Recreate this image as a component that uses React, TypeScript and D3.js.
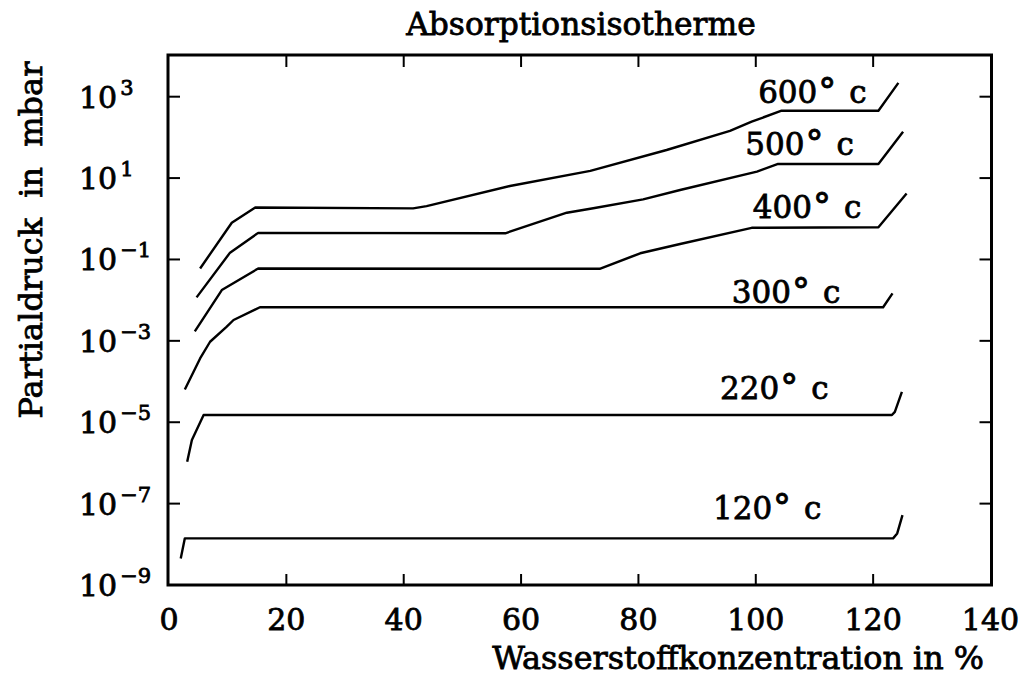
import React from "react";
import * as d3 from "d3";

// Absorption isotherms: hydrogen partial pressure (mbar, log scale) vs. hydrogen concentration (%)
const WIDTH = 1027;
const HEIGHT = 677;

const xTickValues = [0, 20, 40, 60, 80, 100, 120, 140];
const yTickExponents = [3, 1, -1, -3, -5, -7, -9];

const temperatures = ["600", "500", "400", "300", "220", "120"];

// [concentration %, partial pressure mbar]
const iso600: [number, number][] = [
  [5.3, 0.06], [10.7, 0.8], [14.7, 1.9], [41.6, 1.8], [43.9, 2.05], [58.1, 6.4],
  [71.8, 15], [84.8, 49], [95.6, 145], [99.3, 243], [104.4, 453], [120.9, 453], [124.3, 2190],
];
const iso500: [number, number][] = [
  [4.7, 0.0117], [10.4, 0.147], [15.2, 0.45], [57.3, 0.44], [67.8, 1.41], [72.3, 1.81],
  [80.8, 3.0], [87.1, 5.1], [100.2, 14.4], [103.8, 22.2], [120.9, 22.2], [125.1, 138],
];
const iso400: [number, number][] = [
  [4.4, 0.0017], [9.0, 0.0177], [15.2, 0.06], [73.4, 0.059], [80.3, 0.142], [87.1, 0.24],
  [99.3, 0.6], [120.9, 0.62], [125.7, 4.2],
];
const iso300: [number, number][] = [
  [2.7, 6.4e-5], [5.3, 3.7e-4], [7.0, 9.5e-4], [9.8, 2.2e-3], [11.0, 3.25e-3], [15.5, 6.7e-3],
  [121.7, 6.7e-3], [123.3, 0.0147],
];
const iso220: [number, number][] = [
  [3.1, 1.07e-6], [3.9, 3.65e-6], [5.9, 1.5e-5], [123.2, 1.5e-5], [123.7, 1.8e-5], [124.9, 5.6e-5],
];
const iso120: [number, number][] = [
  [2.0, 4.5e-9], [2.7, 1.4e-8], [123.4, 1.4e-8], [124.1, 1.85e-8], [125.0, 5.2e-8],
];

const isotherms = [iso600, iso500, iso400, iso300, iso220, iso120];

// label placement: start x (in %) and baseline offset above the plateau (px)
const labelLayout = [
  { x: 100.4, dy: -8 },
  { x: 98.2, dy: -9 },
  { x: 99.5, dy: -9 },
  { x: 95.9, dy: -4 },
  { x: 93.9, dy: -13 },
  { x: 92.7, dy: -14 },
];

const FONT = "'DejaVu Serif', serif";

// heavier text rendering: fill plus a thin matching outline
const textStyle = { fill: "#000", stroke: "#000", strokeWidth: 0.8 } as const;

export default function App() {
  const left = 169;
  const right = 990.5;
  const top = 56;
  const bottom = 585;

  const x = d3.scaleLinear().domain([0, 140]).range([left, right]);
  const y = d3.scaleLog().domain([1e-9, 1e4]).range([bottom, top]);

  const line = d3
    .line<[number, number]>()
    .x((d) => x(d[0]))
    .y((d) => y(d[1]));

  const innerXTicks = xTickValues.filter((v) => v > 0 && v < 140);
  const innerYTicks = yTickExponents.filter((e) => e > -9);

  const tickLen = 11;

  return (
    <svg
      width={WIDTH}
      height={HEIGHT}
      style={{ position: "absolute", left: 0, top: 0, background: "#fff" }}
      fontFamily={FONT}
    >
      <rect x={0} y={0} width={WIDTH} height={HEIGHT} fill="#fff" />

      {/* title */}
      <text x={581} y={35} fontSize={31.3} textAnchor="middle" {...textStyle}>
        Absorptionsisotherme
      </text>

      {/* frame */}
      <rect
        x={left - 1}
        y={top - 1}
        width={right - left + 2}
        height={bottom - top + 1}
        fill="none"
        stroke="#000"
        strokeWidth={3}
      />

      {/* x ticks (inward, bottom and top) */}
      {innerXTicks.map((v) => (
        <g key={"xt" + v} stroke="#000" strokeWidth={2}>
          <line x1={x(v)} x2={x(v)} y1={bottom} y2={bottom - tickLen} />
          <line x1={x(v)} x2={x(v)} y1={top} y2={top + tickLen} />
        </g>
      ))}

      {/* y ticks (inward, left and right) */}
      {innerYTicks.map((e) => (
        <g key={"yt" + e} stroke="#000" strokeWidth={2}>
          <line x1={left} x2={left + tickLen} y1={y(10 ** e)} y2={y(10 ** e)} />
          <line x1={right} x2={right - tickLen} y1={y(10 ** e)} y2={y(10 ** e)} />
        </g>
      ))}

      {/* x tick labels */}
      {xTickValues.map((v) => (
        <text key={"xl" + v} x={x(v)} y={630} fontSize={30} textAnchor="middle" {...textStyle}>
          {v}
        </text>
      ))}

      {/* y tick labels */}
      {yTickExponents.map((e) => (
        <text key={"yl" + e} x={79} y={y(10 ** e) + 11} fontSize={30} {...textStyle}>
          10
          <tspan dx={3} dy={-13} fontSize={21}>
            {e < 0 ? "\u2212" + Math.abs(e) : String(e)}
          </tspan>
        </text>
      ))}

      {/* axis titles */}
      <text x={984} y={669} fontSize={31.8} textAnchor="end" {...textStyle}>
        Wasserstoffkonzentration in %
      </text>
      <text
        transform={`translate(42,240) rotate(-90)`}
        fontSize={32}
        textAnchor="middle"
        wordSpacing={10}
        {...textStyle}
      >
        Partialdruck in mbar
      </text>

      {/* isotherm curves */}
      {isotherms.map((pts, i) => (
        <path
          key={"c" + i}
          d={line(pts) || ""}
          fill="none"
          stroke="#000"
          strokeWidth={2.4}
          strokeLinejoin="round"
        />
      ))}

      {/* curve labels */}
      {isotherms.map((pts, i) => {
        const plateau = pts[pts.length - 2][1];
        return (
          <text
            key={"lab" + i}
            x={x(labelLayout[i].x)}
            y={y(plateau) + labelLayout[i].dy}
            fontSize={31}
            {...textStyle}
          >
            {temperatures[i]}
            <tspan fontSize={36} dx={1}>°</tspan>
            <tspan dx={13}>c</tspan>
          </text>
        );
      })}
    </svg>
  );
}
